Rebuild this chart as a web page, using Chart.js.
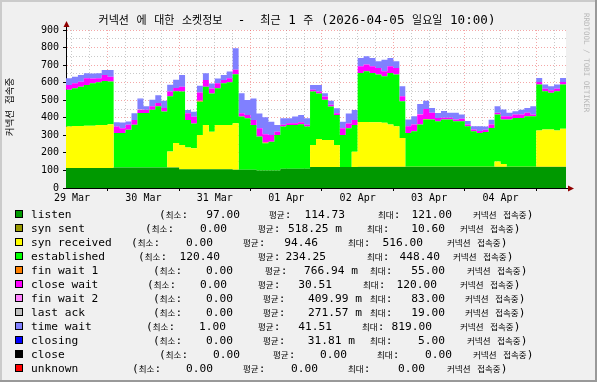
<!DOCTYPE html>
<html><head><meta charset="utf-8">
<script src="https://cdn.jsdelivr.net/npm/chart.js@4.4.1/dist/chart.umd.min.js"></script>
<style>html,body{margin:0;padding:0;background:#f0f0f0;}canvas{display:block;}</style>
</head><body>
<canvas id="c" width="597" height="382"></canvas>
<script>
// ---------- data (2-hour bins from 2026-03-29 10:00 to 2026-04-05 10:00) ----------
const titleText = "커넥션 에 대한 소켓정보  -  최근 1 주 (2026-04-05 일요일 10:00)";
const yTitle = "커넥션 접속중";
const watermark = "RRDTOOL / TOBI OETIKER";
const binHours = 2;
const dayLabels = ["29 Mar","30 Mar","31 Mar","01 Apr","02 Apr","03 Apr","04 Apr"];

const listen = [114,114,114,114,114,114,114,114,
 117,117,117,117,117,117,117,117,117,117,117,
 107,107,107,107,107,107,107,107,107,
 104,104,104,104,100,100,100,100,110,110,110,110,110,
 119,119,119,119,119,119,119,119,119,119,119,119,119,119,119,119,119,119,119,119,119,119,
 119,119,119,119,119,119,119,119,119,119,119,119,119,119,119,119,119,119,119,119,119];
const synSent = [0,0,0,0,0,0,0,0,0,0,0,0,0,0,0,0,0,0,0,0,0,0,0,0,0,0,0,0,0,0,0,0,0,0,0,0,0,0,0,0,0,0,0,0,0,0,0,0,0,
 2,2,2,2,2,2,2,2,2,2,2,2,2,2,2,2,2,2,2,2,2,2,2,2,2,2,2,2,2,2,2,2,2,2,2];
const synReceived = [236,239,239,241,241,245,245,249,
 0,0,0,0,0,0,0,0,0,
 91,139,138,123,119,195,252,214,252,252,252,
 265,
 0,0,0,0,0,0,0,0,0,0,0,0,
 126,160,155,155,126,
 0,0,
 88,
 255,255,253,253,250,240,231,
 164,
 0,0,0,0,0,0,0,0,0,0,0,0,0,0,0,
 30,15,
 0,0,0,0,0,
 206,212,212,206,217];
const established = [209,215,224,232,241,243,251,243,
 196,196,215,243,310,310,329,348,319,
 314,295,304,158,142,190,218,218,209,237,243,
 279,
 303,293,255,193,155,164,202,240,249,249,253,240,
 304,260,228,190,171,
 183,221,
 152,
 279,289,281,272,266,294,294,
 209,
 193,202,240,269,269,259,269,269,259,259,231,202,193,198,221,
 267,254,
 269,278,278,288,288,
 262,218,209,224,251];
const finWait1 = [0,0,0,0,0,0,0,0,0,0,0,0,0,0,0,0,0,0,0,0,0,0,5,0,0,0,0,0,0,0,0,0,0,4,0,0,0,0,0,0,0,0,
 0,0,0,0,0,0,0,0,0,0,0,0,0,0,0,0,0,0,3,0,0,0,0,0,0,0,0,0,0,0,0,0,0,0,0,0,0,0,0,0,0,0];
const closeWait = [28,28,28,38,28,23,34,28,
 38,28,28,28,19,19,19,19,19,
 28,19,28,38,38,47,38,28,28,19,23,
 25,
 19,19,28,47,47,38,19,10,10,10,11,10,
 10,10,19,10,10,
 38,28,
 28,
 38,38,38,38,28,38,38,
 28,
 38,38,57,57,38,19,10,10,10,15,10,10,10,13,19,
 10,19,
 19,19,19,19,10,
 15,15,15,15,15];
const finWait2 = [0,0,0,0,0,0,0,0,0,0,0,0,0,0,0,0,0,0,0,0,0,0,0,0,0,0,0,0,0,0,0,0,0,2,0,0,0,0,0,0,0,0,
 0,0,0,0,0,0,0,0,0,0,0,0,0,0,0,0,0,3,0,0,0,0,0,0,0,0,0,0,0,0,0,0,0,0,0,0,0,0,0,0,0,0];
const lastAck = [0,0,0,0,0,0,0,0,0,0,0,0,2,0,0,0,0,0,0,0,0,0,0,0,0,0,0,0,0,0,0,0,0,0,0,0,0,0,0,0,0,0,
 0,0,0,0,0,0,0,0,0,0,0,0,0,0,0,0,0,0,0,0,0,0,0,0,0,0,0,0,0,0,0,0,0,0,0,0,0,0,0,0,0,0];
const timeWait = [38,38,38,28,28,28,28,38,
 23,32,19,38,57,19,38,44,42,
 38,47,66,19,28,38,38,28,28,28,38,
 123,
 114,85,123,85,95,76,38,38,28,38,42,38,
 28,38,19,23,28,
 38,57,
 57,
 47,47,47,38,66,47,38,
 57,
 38,47,57,47,28,28,34,28,38,23,19,19,28,19,28,
 38,38,
 19,19,28,28,47,
 23,23,23,23,23];
const closing = [0,0,0,0,0,0,0,0,0,0,0,0,3,0,0,0,0,0,0,0,0,0,0,0,0,0,0,0,0,0,0,0,0,0,0,0,0,0,0,0,0,0,
 0,0,0,0,0,0,0,0,0,0,0,0,0,0,0,0,0,0,0,0,0,3,0,0,0,0,0,0,0,0,0,0,0,0,0,0,0,0,0,0,0,0];
const closeState = [0,0,0,0,0,0,0,0,0,0,0,0,0,0,0,0,0,0,0,0,0,0,0,0,0,0,0,0,0,0,0,0,0,0,0,0,0,0,0,0,0,0,
 0,0,0,0,0,0,0,0,0,0,0,0,0,0,0,0,0,0,0,0,0,0,0,0,0,0,0,0,0,0,0,0,0,0,0,0,0,0,0,0,0,0];
const unknown = [0,0,0,0,0,0,0,0,0,0,0,0,0,0,0,0,0,0,0,0,0,0,0,0,0,0,0,0,0,0,0,0,0,0,0,0,0,0,0,0,0,0,
 0,0,0,0,0,0,0,0,0,0,0,0,0,0,0,0,0,0,0,0,0,0,0,0,0,0,0,0,0,0,0,0,0,0,0,0,0,0,0,0,0,0];

const seriesNames = ["listen","syn sent","syn received","established","fin wait 1","close wait","fin wait 2","last ack","time wait","closing","close","unknown"];
const seriesMin = ["97.00","0.00","0.00","120.40","0.00","0.00","0.00","0.00","1.00","0.00","0.00","0.00"];
const seriesAvg = ["114.73","518.25 m","94.46","234.25","766.94 m","30.51","409.99 m","271.57 m","41.51","31.81 m","0.00","0.00"];
const seriesMax = ["121.00","10.60","516.00","448.40","55.00","120.00","83.00","19.00","819.00","5.00","0.00","0.00"];
const unitText = "커넥션 접속중)";

// ---------- styles / layout ----------
const seriesValues = [listen,synSent,synReceived,established,finWait1,closeWait,finWait2,lastAck,timeWait,closing,closeState,unknown];
const seriesColors = ["#009900","#999900","#FFFF00","#00FF00","#FF8000","#FF00FF","#FF80FF","#C0C0C0","#8080FF","#0000FF","#000000","#FF0000"];
// legend x layout per line: [paren, minEnd, avgLabel, avgEnd, maxLabel, maxEnd, unit]
const legendLayout = [
 [159,240,269,345,378,452,473],
 [145,227,258,342,367,445,460],
 [131,213,243,318,348,423,447],
 [138,220,258,326,367,440,453],
 [153,233,265,358,370,445,467],
 [147,227,258,332,363,437,460],
 [153,233,263,362,370,445,465],
 [153,233,263,362,370,445,465],
 [146,226,258,332,362,432,460],
 [153,233,263,355,370,445,467],
 [159,240,273,347,377,452,473],
 [132,213,243,318,348,425,447]
];
const MONO = '"DejaVu Sans Mono"';
const KR = '"Noto Sans CJK KR"';

function runs(str){ return str.split(/([\uAC00-\uD7A3]+)/).filter(s => s.length); }
function drawMixed(ctx, str, x, y, latinPx, hangulPx, align){
  const rs = runs(str).map(s => ({s, font: /[\uAC00-\uD7A3]/.test(s) ? hangulPx + 'px ' + KR : latinPx + 'px ' + MONO}));
  let total = 0;
  rs.forEach(r => { ctx.font = r.font; r.w = ctx.measureText(r.s).width; total += r.w; });
  let cx = align === 'right' ? x - total : (align === 'center' ? x - total / 2 : x);
  ctx.textAlign = 'left';
  rs.forEach(r => { ctx.font = r.font; ctx.fillText(r.s, cx, y); cx += r.w; });
}

function toPoints(arr){
  const pts = arr.map((v, i) => ({x: i * binHours, y: v}));
  pts.push({x: arr.length * binHours, y: arr[arr.length - 1]});
  return pts;
}

const datasets = seriesValues.map((vals, i) => ({
  label: seriesNames[i],
  data: toPoints(vals),
  backgroundColor: seriesColors[i],
  borderColor: 'rgba(0,0,0,0)',
  borderWidth: 0,
  fill: i === 0 ? 'origin' : '-1',
  stepped: true,
  pointRadius: 0,
  pointHitRadius: 0,
  tension: 0
}));

const totalHours = listen.length * binHours;
const decor = {
  id: 'decor',
  beforeDraw(chart){
    const {ctx, chartArea: a} = chart;
    ctx.save();
    ctx.fillStyle = '#f0f0f0';
    ctx.fillRect(0, 0, chart.width, chart.height);
    ctx.fillStyle = '#ffffff';
    ctx.fillRect(a.left, a.top, a.right - a.left, a.bottom - a.top);
    ctx.restore();
  },
  afterDraw(chart){
    const {ctx, chartArea: a} = chart;
    ctx.save();
    // frame
    ctx.fillStyle = '#CBCBCB';
    ctx.fillRect(0, 0, chart.width, 2); ctx.fillRect(0, 0, 2, chart.height);
    ctx.fillStyle = '#999999';
    ctx.fillRect(0, chart.height - 2, chart.width, 2); ctx.fillRect(chart.width - 2, 0, 2, chart.height);
    // axis extensions + arrows
    ctx.strokeStyle = '#000'; ctx.lineWidth = 1;
    ctx.beginPath();
    ctx.moveTo(a.left + 0.5, a.top); ctx.lineTo(a.left + 0.5, a.top - 4);
    ctx.moveTo(a.right, a.bottom + 0.5); ctx.lineTo(a.right + 3, a.bottom + 0.5);
    ctx.stroke();
    ctx.fillStyle = '#900000';
    ctx.beginPath();
    ctx.moveTo(a.left - 2.5, a.top - 3); ctx.lineTo(a.left + 3.5, a.top - 3); ctx.lineTo(a.left + 0.5, a.top - 9); ctx.closePath(); ctx.fill();
    ctx.beginPath();
    ctx.moveTo(a.right + 2, a.bottom - 2.5); ctx.lineTo(a.right + 2, a.bottom + 3.5); ctx.lineTo(a.right + 8, a.bottom + 0.5); ctx.closePath(); ctx.fill();
    // title
    ctx.fillStyle = '#000';
    ctx.textBaseline = 'alphabetic';
    drawMixed(ctx, titleText, 297, 24, 12.6, 11, 'center');
    // y title
    ctx.save();
    ctx.translate(13, 107); ctx.rotate(-Math.PI / 2);
    ctx.textBaseline = 'alphabetic';
    drawMixed(ctx, yTitle, 0, 0, 10, 9.5, 'center');
    ctx.restore();
    // watermark
    ctx.save();
    ctx.translate(584, 13); ctx.rotate(Math.PI / 2);
    ctx.fillStyle = '#b8b8b8';
    ctx.font = '7.5px ' + MONO; ctx.textAlign = 'left'; ctx.textBaseline = 'alphabetic';
    ctx.fillText(watermark, 0, 0);
    ctx.restore();
    // legend
    seriesNames.forEach((name, i) => {
      const cy = 214 + i * 14, base = cy + 4, L = legendLayout[i];
      ctx.fillStyle = seriesColors[i];
      ctx.fillRect(15, cy - 4, 8, 8);
      ctx.strokeStyle = '#000'; ctx.lineWidth = 1;
      ctx.strokeRect(15.5, cy - 3.5, 7, 7);
      ctx.fillStyle = '#000';
      ctx.textBaseline = 'alphabetic';
      drawMixed(ctx, name, 31, base, 11.2, 8.5, 'left');
      drawMixed(ctx, '(최소:', L[0], base, 11.2, 8.5, 'left');
      drawMixed(ctx, seriesMin[i], L[1], base, 11.2, 8.5, 'right');
      drawMixed(ctx, '평균:', L[2], base, 11.2, 8.5, 'left');
      drawMixed(ctx, seriesAvg[i], L[3], base, 11.2, 8.5, 'right');
      drawMixed(ctx, '최대:', L[4], base, 11.2, 8.5, 'left');
      drawMixed(ctx, seriesMax[i], L[5], base, 11.2, 8.5, 'right');
      drawMixed(ctx, unitText, L[6], base, 11.2, 8.5, 'left');
    });
    ctx.restore();
  }
};

const gridHours = [];
for (let h = 2; h < totalHours; h += 6) gridHours.push(h);
const isMidnight = v => ((v - 14) % 24) === 0;
const isNoon = v => ((v - 2) % 24) === 0;

new Chart(document.getElementById('c'), {
  type: 'line',
  data: {datasets},
  options: {
    responsive: false,
    devicePixelRatio: 1,
    animation: false,
    events: [],
    layout: {padding: {left: 0, top: 30, right: 31, bottom: 174}},
    plugins: {legend: {display: false}, title: {display: false}, tooltip: {enabled: false}},
    scales: {
      x: {
        type: 'linear', min: 0, max: totalHours, z: 1,
        afterBuildTicks: s => { s.ticks = gridHours.map(v => ({value: v})); },
        afterFit: s => { s.height = 20; },
        ticks: {
          autoSkip: false, maxRotation: 0, minRotation: 0, padding: 1, color: '#000',
          font: {family: 'DejaVu Sans Mono', size: 10},
          callback: v => isNoon(v) ? dayLabels[(v - 2) / 24] : ''
        },
        grid: {
          color: c => isMidnight(c.tick.value) ? 'rgba(230,60,60,0.45)' : 'rgba(120,120,120,0.4)',
          lineWidth: 1, tickLength: 3,
          tickColor: c => isMidnight(c.tick.value) ? '#000' : 'rgba(0,0,0,0)'
        },
        border: {display: true, color: '#000', width: 1, dash: [1, 2]}
      },
      y: {
        stacked: true, min: 0, max: 900, z: 1,
        afterFit: s => { s.width = 66; },
        ticks: {
          stepSize: 50, autoSkip: false, padding: 4, color: '#000',
          font: {family: 'DejaVu Sans Mono', size: 10},
          callback: v => (v % 100 === 0) ? String(v) : ''
        },
        grid: {
          color: c => (c.tick.value % 100 === 0) ? 'rgba(230,60,60,0.45)' : 'rgba(120,120,120,0.4)',
          lineWidth: 1, tickLength: 3,
          tickColor: c => (c.tick.value % 100 === 0) ? '#000' : 'rgba(0,0,0,0)'
        },
        border: {display: true, color: '#000', width: 1, dash: [1, 2]}
      }
    }
  },
  plugins: [decor]
});
</script>
</body></html>
